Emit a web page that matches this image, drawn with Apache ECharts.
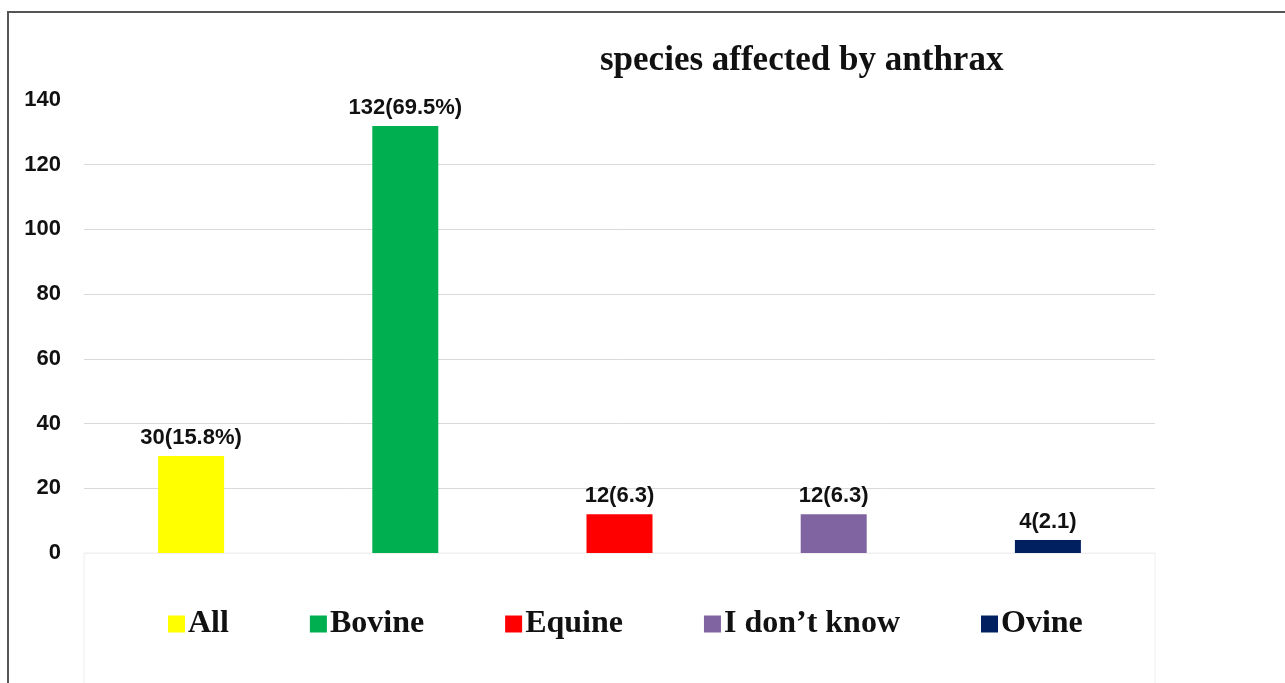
<!DOCTYPE html>
<html>
<head>
<meta charset="utf-8">
<script src="https://cdn.jsdelivr.net/npm/echarts@6/dist/echarts.min.js"></script>
<style>
  html, body { margin: 0; padding: 0; background: #fff; }
  #chart { width: 1285px; height: 683px; }
</style>
</head>
<body>
<div id="chart"></div>
<script>
// species data
var categories = ['All', 'Bovine', 'Equine', 'I don\u2019t know', 'Ovine']
var counts = [30, 132, 12, 12, 4]
var labels = ['30(15.8%)', '132(69.5%)', '12(6.3)', '12(6.3)', '4(2.1)']
var colors = ['#FFFF00', '#00B050', '#FF0000', '#8064A2', '#002060']
var yTicks = { min: 0, max: 140, interval: 20 }

var chart = echarts.init(document.getElementById('chart'))

// one series per species so the legend shows each one
var series = categories.map(function (name, i) {
  var data = categories.map(function (c, j) { return j === i ? counts[i] : '-' })
  return {
    name: name,
    type: 'bar',
    stack: 'all',
    barWidth: 66,
    data: data,
    itemStyle: { color: colors[i] },
    label: {
      show: true,
      position: 'top',
      distance: 7,
      formatter: function () { return labels[i] },
      fontFamily: 'Liberation Sans',
      fontWeight: 'bold',
      fontSize: 22,
      color: '#111'
    }
  }
})

var option = {
  animation: false,
  backgroundColor: '#fff',
  title: {
    text: 'species affected by anthrax',
    left: 595,
    top: 38,
    textStyle: {
      fontFamily: 'Liberation Serif',
      fontWeight: 'bold',
      fontSize: 35,
      color: '#111'
    }
  },
  graphic: [
    {
      type: 'rect',
      shape: { x: 8, y: 12, width: 1300, height: 700 },
      style: { fill: 'none', stroke: '#555', lineWidth: 2 },
      z: 0
    },
    {
      type: 'rect',
      shape: { x: 84, y: 553, width: 1071, height: 140 },
      style: { fill: 'none', stroke: '#eeeeee', lineWidth: 1 },
      z: 0
    }
  ],
  legend: {
    data: categories,
    left: 163,
    top: 603,
    itemWidth: 17,
    itemHeight: 17,
    itemGap: 81,
    icon: 'rect',
    textStyle: {
      fontFamily: 'Liberation Serif',
      fontWeight: 'bold',
      fontSize: 32,
      color: '#111',
      padding: [0, 0, 0, -2]
    }
  },
  grid: { left: 84, right: 130, top: 100, bottom: 130 },
  xAxis: {
    type: 'category',
    data: categories,
    axisLine: { show: false },
    axisTick: { show: false },
    axisLabel: { show: false }
  },
  yAxis: {
    type: 'value',
    min: yTicks.min,
    max: yTicks.max,
    interval: yTicks.interval,
    axisLine: { show: false },
    axisTick: { show: false },
    axisLabel: {
      margin: 23,
      fontFamily: 'Liberation Sans',
      fontWeight: 'bold',
      fontSize: 22,
      color: '#111'
    },
    splitLine: {
      lineStyle: {
        color: ['#f0f0f0', '#d9d9d9', '#d9d9d9', '#d9d9d9', '#d9d9d9', '#d9d9d9', '#d9d9d9', 'rgba(0,0,0,0)'],
        width: 1
      }
    }
  },
  series: series
}

chart.setOption(option)
</script>
</body>
</html>
